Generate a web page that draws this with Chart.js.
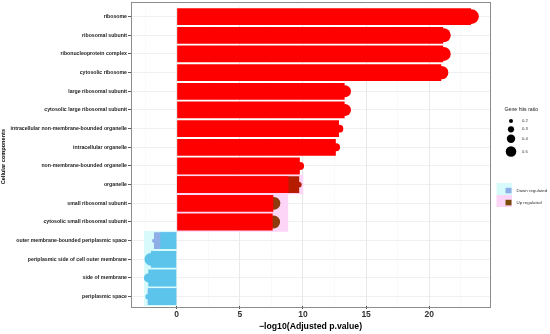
<!DOCTYPE html>
<html>
<head>
<meta charset="utf-8">
<script src="https://cdn.jsdelivr.net/npm/chart.js@4.4.1/dist/chart.umd.min.js"></script>
<style>
  html, body { margin: 0; padding: 0; background: #fff; }
  #wrap { width: 550px; height: 334px; }
</style>
</head>
<body>
<div id="wrap"><canvas id="c" width="550" height="334"></canvas></div>
<script>
// categories, top to bottom
var categories = ['ribosome', 'ribosomal subunit', 'ribonucleoprotein complex', 'cytosolic ribosome',
  'large ribosomal subunit', 'cytosolic large ribosomal subunit', 'intracellular non-membrane-bounded organelle',
  'intracellular organelle', 'non-membrane-bounded organelle', 'organelle', 'small ribosomal subunit',
  'cytosolic small ribosomal subunit', 'outer membrane-bounded periplasmic space',
  'periplasmic side of cell outer membrane', 'side of membrane', 'periplasmic space'];
var regulation = ['up','up','up','up','up','up','up','up','up','up','up','up','down','down','down','down'];
// -log10(adj p) for the main bars
var mainValue = [23.3, 21.1, 21.1, 20.95, 13.3, 13.3, 12.85, 12.6, 9.75, 8.85, 7.65, 7.6, -1.3, -2.04, -2.25, -2.25];
// second (darker) bars
var darkValue = [null, null, null, null, null, null, null, null, null, 9.7, null, null, -1.8, null, null, -2.3];
// light background bars
var bgValue = [null, null, null, null, null, null, null, null, null, 10.0, 8.8, 8.8, -2.56, -2.56, -2.56, -2.56];
// point positions and gene hits ratio
var pointValue = [23.35, 21.15, 21.15, 20.98, 13.33, 13.33, 12.88, 12.62, 9.77, 9.7, 7.7, 7.68, -1.8, -2.04, -2.25, -2.28];
var geneHitsRatio = [0.68, 0.65, 0.65, 0.63, 0.56, 0.56, 0.38, 0.38, 0.38, 0.25, 0.6, 0.6, 0.2, 0.6, 0.42, 0.25];
var ratioLegend = [0.2, 0.3, 0.4, 0.5];
var regLegend = ['Down regulated', 'Up regulated'];
var xTicks = [-2.5, 0, 2.5, 5, 7.5, 10, 12.5, 15, 17.5, 20, 22.5];

var RED = '#ff0000', SKY = '#5cc3eb', LAV = '#8eaee8', DARKRED = '#b51c00', BROWN = '#8c3b0c';
var PINK = '#fdd5f7', CYAN = '#d7fbfb';

function rad(r) { return 11 * r - 0.2; }

var pointColors = pointValue.map(function (v, i) {
  if (i === 9) return DARKRED;
  if (i === 10 || i === 11) return BROWN;
  if (i === 12) return LAV;
  return regulation[i] === 'up' ? RED : SKY;
});

var legendPlugin = {
  id: 'panelAndLegend',
  afterDraw: function (chart) {
    var ctx = chart.ctx, a = chart.chartArea;
    ctx.save();
    ctx.strokeStyle = '#8c8c8c';
    ctx.lineWidth = 1;
    ctx.strokeRect(Math.round(a.left) + 0.5, 2.5, Math.round(a.right - a.left), 305);

    // size legend
    ctx.fillStyle = '#222';
    ctx.font = '5.2px "Liberation Sans", Arial, sans-serif';
    ctx.textBaseline = 'middle';
    ctx.textAlign = 'left';
    ctx.fillText('Gene hits ratio', 504.5, 110);
    var ys = [121, 129.3, 138.7, 151.5];
    ratioLegend.forEach(function (r, i) {
      ctx.fillStyle = '#000';
      ctx.beginPath();
      ctx.arc(511, ys[i], rad(r), 0, Math.PI * 2);
      ctx.fill();
      ctx.fillStyle = '#333';
      ctx.font = '4.2px "Liberation Sans", Arial, sans-serif';
      ctx.fillText(r.toFixed(1), 522, ys[i]);
    });

    // regulation legend
    var keyBg = [CYAN, PINK], keyFg = [LAV, '#7a4a08'];
    regLegend.forEach(function (t, i) {
      var y0 = 183 + i * 12;
      ctx.fillStyle = keyBg[i];
      ctx.fillRect(496.5, y0, 15.5, 12);
      ctx.fillStyle = keyFg[i];
      ctx.fillRect(505.5, y0 + 4.8, 6, 5.5);
      ctx.fillStyle = '#333';
      ctx.font = '4.4px "Liberation Sans", Arial, sans-serif';
      ctx.fillText(t, 516.5, y0 + 7.5);
    });
    ctx.restore();
  }
};

new Chart(document.getElementById('c'), {
  type: 'bar',
  data: {
    labels: categories,
    datasets: [
      {
        label: 'bg', data: bgValue, order: 4, grouped: false,
        backgroundColor: regulation.map(function (r) { return r === 'up' ? PINK : CYAN; }),
        barPercentage: 1, categoryPercentage: 1, borderWidth: 0
      },
      {
        label: 'dark', data: darkValue, order: 3, grouped: false,
        backgroundColor: regulation.map(function (r) { return r === 'up' ? DARKRED : LAV; }),
        barPercentage: 0.9, categoryPercentage: 1, borderWidth: 0
      },
      {
        type: 'bubble', label: 'points', order: 2,
        data: pointValue.map(function (v, i) { return { x: v, y: categories[i], r: rad(geneHitsRatio[i]) }; }),
        backgroundColor: pointColors, borderWidth: 0, clip: false
      },
      {
        label: 'main', data: mainValue, order: 1, grouped: false,
        backgroundColor: regulation.map(function (r) { return r === 'up' ? RED : SKY; }),
        barPercentage: 0.9, categoryPercentage: 1, borderWidth: 0
      }
    ]
  },
  options: {
    indexAxis: 'y',
    responsive: false,
    animation: false,
    events: [],
    layout: { padding: { left: 0, right: 60, top: 3.9, bottom: 0 } },
    plugins: { legend: { display: false }, tooltip: { enabled: false } },
    scales: {
      x: {
        type: 'linear', min: -3.62, max: 24.81,
        afterBuildTicks: function (s) { s.ticks = xTicks.map(function (v) { return { value: v }; }); },
        afterFit: function (s) { s.height = 28; },
        border: { display: false },
        grid: {
          color: function (c) { return c.tick && c.tick.value % 5 === 0 ? '#e6e6e6' : '#f3f3f3'; },
          lineWidth: function (c) { return c.tick && c.tick.value % 5 === 0 ? 0.9 : 0.5; },
          tickColor: function (c) { return c.tick && c.tick.value % 5 === 0 ? '#333' : 'rgba(0,0,0,0)'; },
          tickLength: 3
        },
        ticks: {
          padding: 1, color: '#333',
          font: { family: '"Liberation Sans", Arial, sans-serif', size: 8.5, weight: 'bold' },
          callback: function (v) { return v % 5 === 0 ? String(v) : ''; }
        },
        title: {
          display: true, text: '\u2212log10(Adjusted p.value)', color: '#000',
          padding: { top: 0, bottom: 2.3 },
          font: { family: '"Liberation Sans", Arial, sans-serif', size: 8.7, weight: 'bold' }
        }
      },
      y: {
        type: 'category',
        afterFit: function (s) { s.width = 131; },
        border: { display: false },
        grid: { offset: false, color: '#ececec', lineWidth: 0.8, tickColor: '#333', tickLength: 3 },
        ticks: {
          padding: 1, color: '#222', autoSkip: false,
          font: { family: '"Liberation Sans", Arial, sans-serif', size: 5.2, weight: 'bold' }
        },
        title: {
          display: true, text: 'Cellular components', color: '#000',
          padding: { top: 0, bottom: 0 },
          font: { family: '"Liberation Sans", Arial, sans-serif', size: 5.6, weight: 'bold' }
        }
      }
    }
  },
  plugins: [legendPlugin]
});
</script>
</body>
</html>
